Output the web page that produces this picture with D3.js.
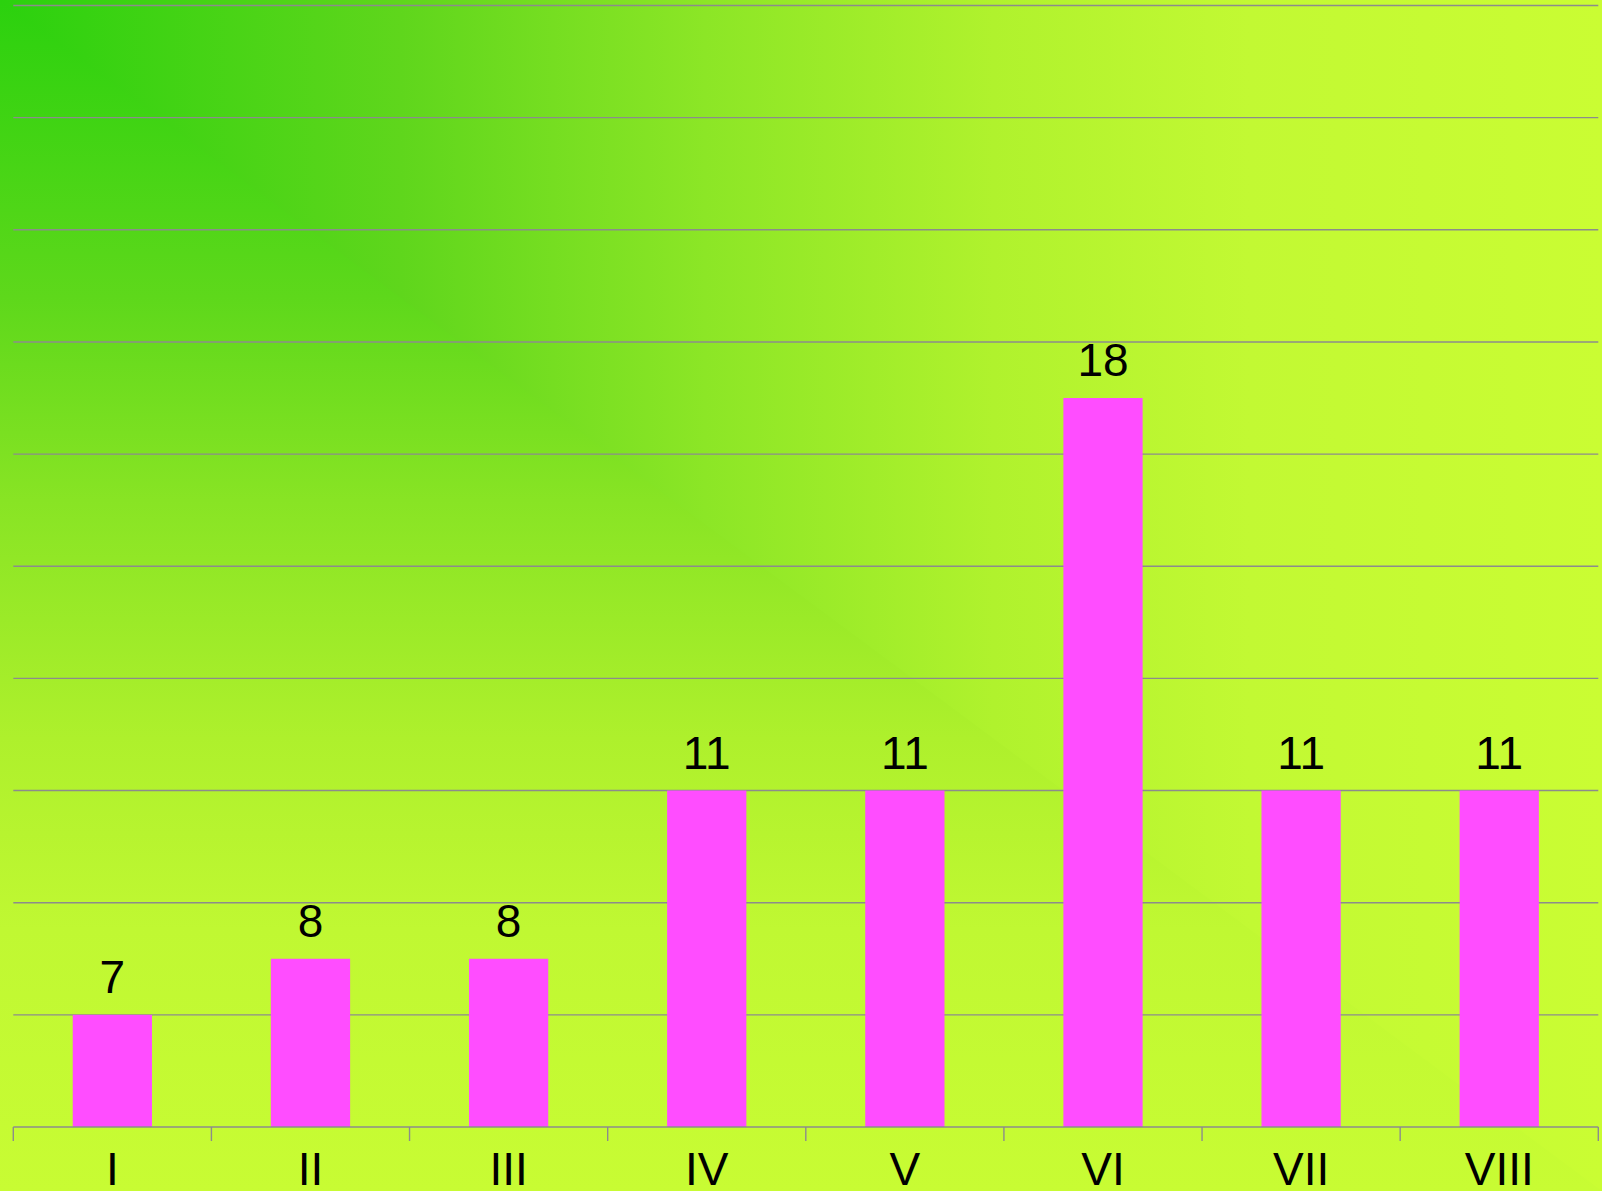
<!DOCTYPE html>
<html>
<head>
<meta charset="utf-8">
<script src="https://cdn.jsdelivr.net/npm/d3@7"></script>
<style>
html,body{margin:0;padding:0;overflow:hidden;background:#c8fc33;}
svg{display:block;}
</style>
</head>
<body>
<script>
const categories = ["I","II","III","IV","V","VI","VII","VIII"];
const values = [7, 8, 8, 11, 11, 18, 11, 11];
const yTicks = [7, 9, 11, 13, 15, 17, 19, 21, 23, 25];
const yDomain = [5, 25];

const W = 1602, H = 1191;
const plotLeft = 13.3, plotRight = 1598.3, plotTop = 5.5, plotBottom = 1127;

const svg = d3.select("body").append("svg").attr("width", W).attr("height", H);
const defs = svg.append("defs");

// rectangular path gradient from top-left corner: horizontal + vertical linear gradients
const hStops = [[0,"#2bd10e"],[0.25,"#5fd61c"],[0.44,"#8ce626"],[0.62,"#b0f22d"],[0.78,"#c2f933"],[1,"#cafd33"]];
const vStops = [[0,"#2bd10e"],[0.25,"#5ed81b"],[0.42,"#88e424"],[0.62,"#aef02c"],[0.78,"#c0f832"],[1,"#c8fc33"]];
const hg = defs.append("linearGradient").attr("id","hg").attr("gradientUnits","userSpaceOnUse")
  .attr("x1",0).attr("y1",0).attr("x2",W).attr("y2",0);
hStops.forEach(s => hg.append("stop").attr("offset",s[0]).attr("stop-color",s[1]));
const vg = defs.append("linearGradient").attr("id","vg").attr("gradientUnits","userSpaceOnUse")
  .attr("x1",0).attr("y1",0).attr("x2",0).attr("y2",H);
vStops.forEach(s => vg.append("stop").attr("offset",s[0]).attr("stop-color",s[1]));

svg.append("rect").attr("width",W).attr("height",H).attr("fill","url(#hg)");
svg.append("path").attr("d",`M0,0 L${W},${H} L0,${H} Z`).attr("fill","url(#vg)");

const x = d3.scaleBand().domain(categories).range([plotLeft, plotRight]).paddingInner(0).paddingOuter(0);
const y = d3.scaleLinear().domain(yDomain).range([plotBottom, plotTop]);

// gridlines
svg.append("g").selectAll("line").data(yTicks).join("line")
  .attr("x1", plotLeft).attr("x2", plotRight)
  .attr("y1", d => y(d)).attr("y2", d => y(d))
  .attr("stroke", "#8c8c8c").attr("stroke-width", 1.4);

// bars
const bw = x.bandwidth() * 0.4;
svg.append("g").selectAll("rect").data(values).join("rect")
  .attr("x", (d,i) => x(categories[i]) + x.bandwidth()/2 - bw/2)
  .attr("y", d => y(d))
  .attr("width", bw)
  .attr("height", d => y(yDomain[0]) - y(d))
  .attr("fill", "#ff4dff");

// value labels
svg.append("g").selectAll("text").data(values).join("text")
  .attr("x", (d,i) => x(categories[i]) + x.bandwidth()/2)
  .attr("y", d => y(d) - 22)
  .attr("text-anchor","middle")
  .attr("font-family","'Liberation Sans', Arial, sans-serif")
  .attr("font-size", 46)
  .attr("fill","#000")
  .text(d => d);

// x axis
const axis = svg.append("g");
axis.append("line").attr("x1", plotLeft).attr("x2", plotRight).attr("y1", plotBottom).attr("y2", plotBottom)
  .attr("stroke","#8c8c8c").attr("stroke-width",1.4);
const boundaries = categories.map(c => x(c)).concat([plotRight]);
axis.selectAll("line.tick").data(boundaries).join("line").attr("class","tick")
  .attr("x1", d => d).attr("x2", d => d).attr("y1", plotBottom).attr("y2", plotBottom + 14)
  .attr("stroke","#8c8c8c").attr("stroke-width",1.4);
axis.selectAll("text").data(categories).join("text")
  .attr("x", d => x(d) + x.bandwidth()/2)
  .attr("y", 1185)
  .attr("text-anchor","middle")
  .attr("font-family","'Liberation Sans', Arial, sans-serif")
  .attr("font-size", 46)
  .attr("fill","#000")
  .text(d => d);
</script>
</body>
</html>
